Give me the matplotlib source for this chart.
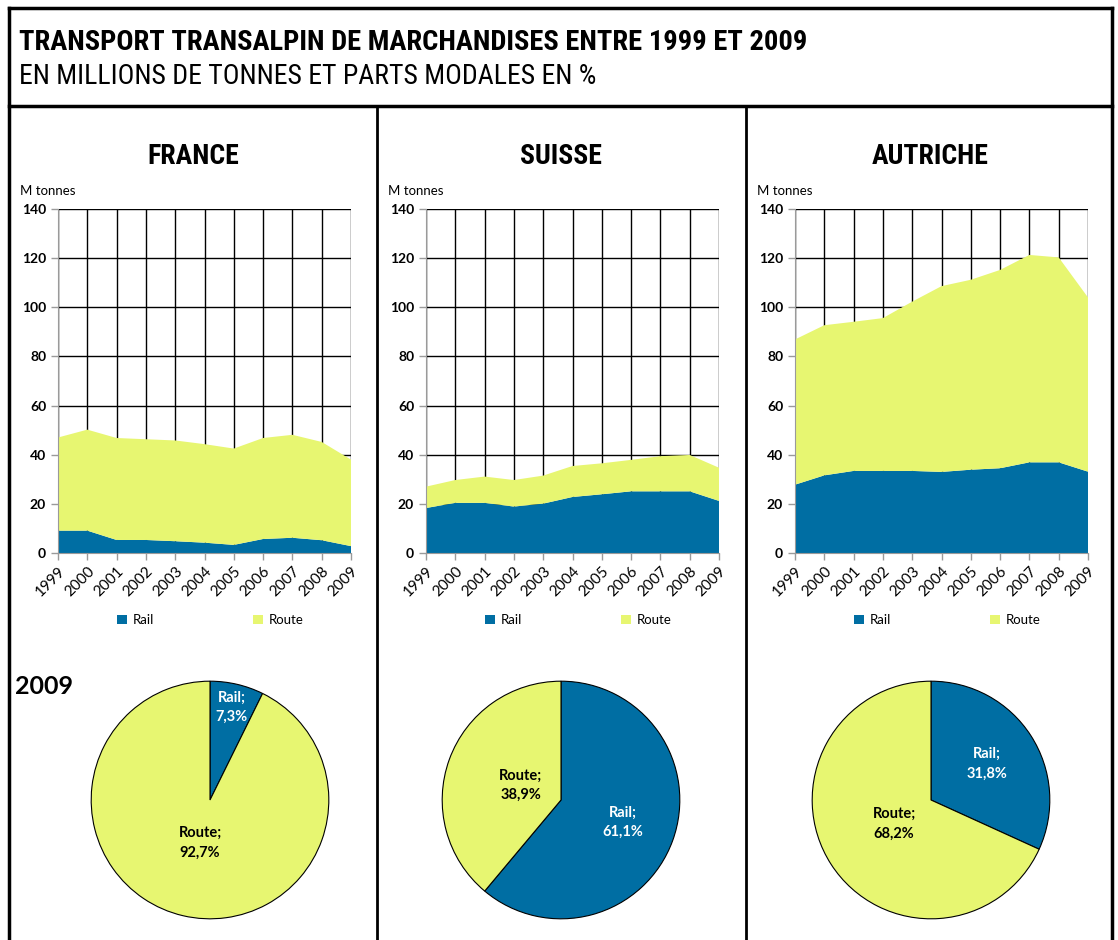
import matplotlib
matplotlib.use('Agg')
import numpy as np
import matplotlib.pyplot as plt
from matplotlib.font_manager import fontManager
from matplotlib.lines import Line2D
from matplotlib.patches import Patch

# polices : titre étroit si disponible
noms = set(f.name for f in fontManager.ttflist)
narrow = 'DejaVu Sans'
for nom in ['Liberation Sans Narrow', 'Roboto Condensed', 'Open Sans Condensed', 'Roboto']:
    if nom in noms:
        narrow = nom
        break
plt.rcParams['font.family'] = ['Lato', 'DejaVu Sans']

years = list(range(1999, 2010))
countries = ['FRANCE', 'SUISSE', 'AUTRICHE']

france_rail = [9.1, 9.1, 5.3, 5.3, 4.8, 4.2, 3.3, 5.7, 6.2, 5.2, 2.8]
france_route = [37.9, 41.1, 41.5, 41.0, 41.0, 40.1, 39.2, 41.1, 41.9, 40.0, 35.2]
suisse_rail = [18.3, 20.4, 20.4, 18.9, 20.1, 22.8, 23.9, 25.1, 25.1, 25.1, 21.2]
suisse_route = [8.7, 9.3, 10.7, 10.8, 11.4, 12.6, 12.6, 12.8, 14.3, 14.8, 13.5]
autriche_rail = [27.8, 31.6, 33.4, 33.4, 33.4, 33.0, 33.9, 34.5, 36.9, 36.9, 33.1]
autriche_route = [59.1, 61.1, 60.7, 62.2, 68.9, 75.6, 77.3, 80.7, 84.4, 83.4, 70.9]

# parts modales 2009 (Rail, Route) en %
france_2009 = [7.3, 92.7]
suisse_2009 = [61.1, 38.9]
autriche_2009 = [31.8, 68.2]

modes = ['Rail', 'Route']
yticks = [0, 20, 40, 60, 80, 100, 120, 140]

BLEU = '#006ea3'
JAUNE = '#e7f671'
GRIS = '#9a9a9a'

W, H = 1118, 940
fig = plt.figure(figsize=(W / 100, H / 100), dpi=100)


def px(x0, y0, x1, y1):
    # rectangle en pixels (haut-gauche, bas-droite) -> coordonnées figure
    return [x0 / W, 1 - y1 / H, (x1 - x0) / W, (y1 - y0) / H]


def fx(x):
    return x / W


def fy(y):
    return 1 - y / H


# cadres
for (x0, y0, x1, y1, lw) in [(9, 8, 9, 940, 2.5), (1112, 8, 1112, 940, 2.5),
                             (9, 8, 1112, 8, 2.5), (9, 106, 1112, 106, 2.5),
                             (377, 106, 377, 940, 2), (746, 106, 746, 940, 2)]:
    fig.add_artist(Line2D([fx(x0), fx(x1)], [fy(y0), fy(y1)], color='black',
                          lw=lw, transform=fig.transFigure))

fig.text(fx(19), fy(43), 'TRANSPORT TRANSALPIN DE MARCHANDISES ENTRE 1999 ET 2009',
         family=narrow, weight='bold', fontsize=20.5, va='center', ha='left')
fig.text(fx(19), fy(77), 'EN MILLIONS DE TONNES ET PARTS MODALES EN %',
         family=narrow, fontsize=20, va='center', ha='left')

rails = [france_rail, suisse_rail, autriche_rail]
routes = [france_route, suisse_route, autriche_route]
parts = [france_2009, suisse_2009, autriche_2009]
# distance des étiquettes au centre (fraction du rayon), par secteur
label_dist = [[0.8, 0.37], [0.55, 0.36], [0.56, 0.37]]

ax_left = [58, 426, 795]
pie_cx = [210, 561, 931]
title_cx = [193, 561, 930]

for i in range(3):
    x0 = ax_left[i]
    fig.text(fx(title_cx[i]), fy(156), countries[i], family=narrow, weight='bold',
             fontsize=20, ha='center', va='center')
    fig.text(fx(x0 - 38), fy(191), 'M tonnes', fontsize=9.5, ha='left', va='center')

    ax = fig.add_axes(px(x0, 209, x0 + 293, 553))
    ax.stackplot(years, rails[i], routes[i], colors=[BLEU, JAUNE], zorder=3)
    ax.set_xlim(1999, 2009)
    ax.set_ylim(0, 140)
    ax.set_xticks(years)
    ax.set_yticks(yticks)
    ax.set_xticklabels([str(y) for y in years], rotation=45, ha='right',
                       rotation_mode='anchor', fontsize=11)
    ax.set_yticklabels([str(v) for v in yticks], fontsize=10, weight='bold')
    ax.grid(True, color='black', lw=1)
    ax.set_axisbelow(True)
    for s in ['top', 'right']:
        ax.spines[s].set_visible(False)
    for s in ['left', 'bottom']:
        ax.spines[s].set_color(GRIS)
        ax.spines[s].set_zorder(4)
    ax.tick_params(axis='both', color=GRIS, length=5, width=1)
    ax.tick_params(axis='x', pad=3)

    handles = [Patch(facecolor=BLEU, label=modes[0]), Patch(facecolor=JAUNE, label=modes[1])]
    ax.legend(handles=handles, loc='center', bbox_to_anchor=(0.52, -0.195), ncol=2,
              frameon=False, fontsize=9.5, handlelength=0.75, handleheight=0.75,
              handletextpad=0.45, columnspacing=7.5)

    # camembert 2009
    cx = pie_cx[i]
    pax = fig.add_axes(px(cx - 120, 680, cx + 120, 920))
    wedges, _ = pax.pie(parts[i], colors=[BLEU, JAUNE], startangle=90, counterclock=False,
                        wedgeprops=dict(edgecolor='black', linewidth=0.8))
    pax.set_xlim(-1.01, 1.01)
    pax.set_ylim(-1.01, 1.01)
    for k, w in enumerate(wedges):
        a = np.deg2rad((w.theta1 + w.theta2) / 2)
        r = label_dist[i][k]
        txt = '%s;\n%s%%' % (modes[k], ('%.1f' % parts[i][k]).replace('.', ','))
        pax.text(r * np.cos(a), r * np.sin(a), txt, ha='center', va='center',
                 fontsize=10.5, weight='bold', linespacing=1.5,
                 color='white' if k == 0 else 'black')

fig.text(fx(15), fy(686), '2009', fontsize=18, weight='bold', ha='left', va='center')

fig.savefig('out.png', dpi=100)
